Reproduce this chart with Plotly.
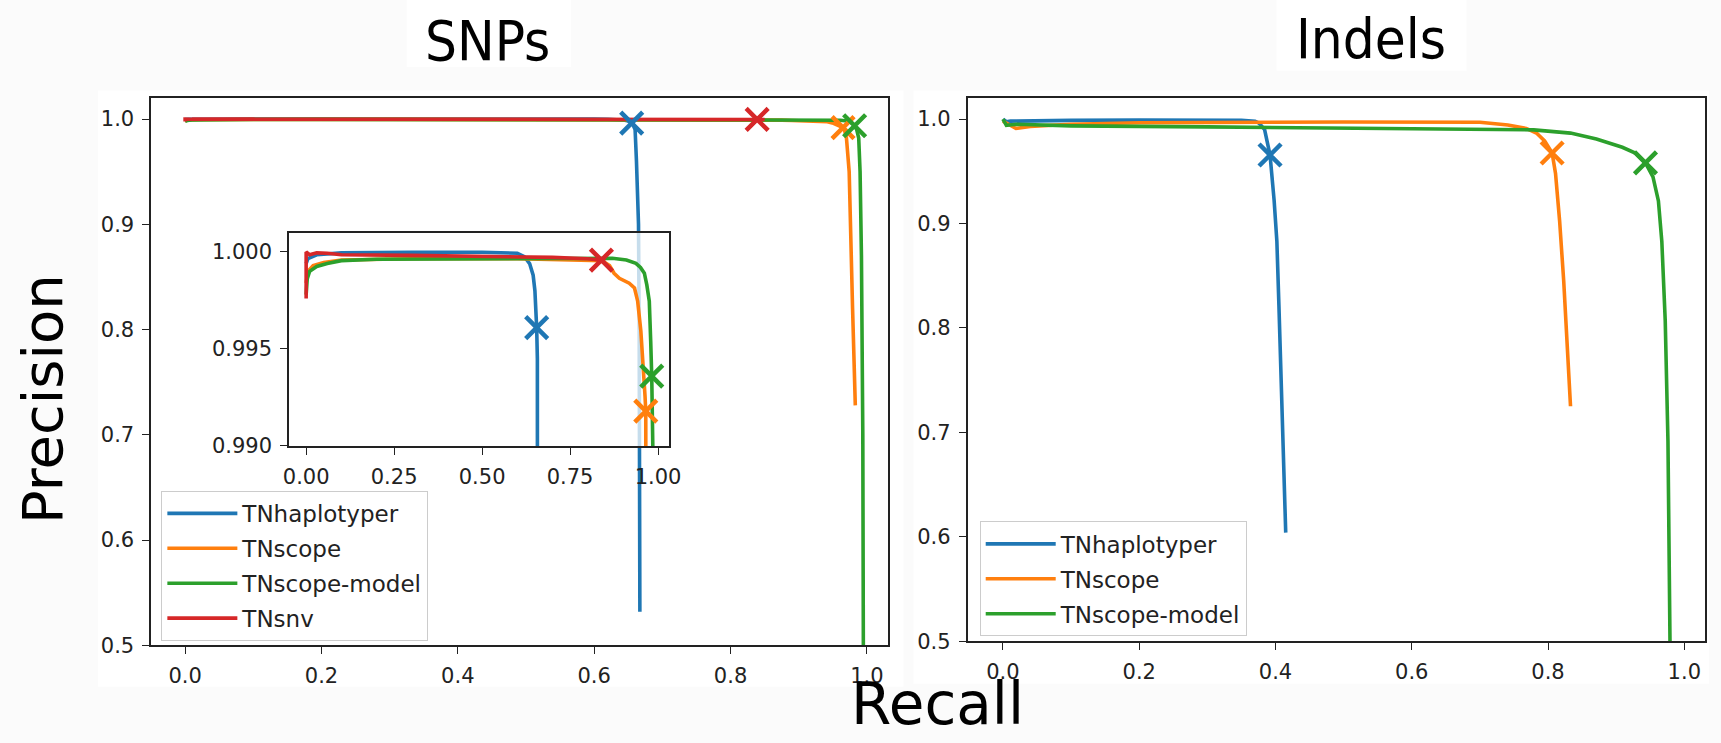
import plotly.graph_objects as go

W, H = 1721, 743

# ---------------- data: SNPs ----------------
snp_hap_recall = [0.0, 0.005, 0.03, 0.1, 0.3, 0.5, 0.6, 0.62, 0.635, 0.645, 0.65, 0.653, 0.655, 0.657, 0.659, 0.660, 0.662, 0.665, 0.666, 0.667, 0.667]
snp_hap_prec = [0.9994, 0.99965, 0.99985, 0.99995, 0.99998, 0.99998, 0.99993, 0.99975, 0.9994, 0.9988, 0.9980, 0.9970, 0.9961, 0.9945, 0.9925, 0.990, 0.96, 0.90, 0.80, 0.65, 0.532]

snp_scope_recall = [0.0, 0.005, 0.02, 0.05, 0.1, 0.3, 0.6, 0.8, 0.84, 0.862, 0.875, 0.89, 0.918, 0.933, 0.942, 0.951, 0.958, 0.963, 0.965, 0.967, 0.970, 0.974, 0.976, 0.979, 0.983]
snp_scope_prec = [0.9984, 0.9990, 0.9993, 0.99945, 0.99958, 0.99965, 0.99965, 0.9996, 0.99955, 0.9993, 0.9989, 0.99864, 0.99839, 0.99814, 0.99746, 0.99593, 0.99424, 0.99254, 0.99178, 0.990, 0.982, 0.95, 0.89, 0.82, 0.728]

snp_model_recall = [0.0, 0.003, 0.01, 0.03, 0.06, 0.1, 0.2, 0.5, 0.8, 0.87, 0.91, 0.937, 0.95, 0.961, 0.968, 0.975, 0.979, 0.982, 0.985, 0.988, 0.990, 0.992, 0.994, 0.995]
snp_model_prec = [0.9978, 0.9986, 0.9990, 0.99925, 0.9994, 0.99955, 0.99962, 0.99966, 0.99967, 0.99967, 0.99958, 0.99941, 0.9992, 0.9989, 0.9983, 0.99746, 0.99542, 0.99356, 0.990, 0.982, 0.95, 0.87, 0.70, 0.45]

snp_snv_recall = [0.0, 0.0, 0.01, 0.03, 0.06, 0.1, 0.3, 0.5, 0.7, 0.8, 0.839, 0.85]
snp_snv_prec = [0.9976, 1.0000, 0.99985, 0.99995, 0.99993, 0.99985, 0.99982, 0.99978, 0.99972, 0.99965, 0.99958, 0.99955]

snp_marker_recall = [0.655, 0.965, 0.982, 0.839]
snp_marker_prec = [0.9961, 0.9918, 0.9936, 0.99958]

# ---------------- data: Indels ----------------
ind_hap_recall = [0.0, 0.005, 0.011, 0.05, 0.1, 0.2, 0.3, 0.35, 0.37, 0.376, 0.384, 0.392, 0.398, 0.402, 0.405, 0.408, 0.411, 0.415]
ind_hap_prec = [1.0, 0.9975, 0.998, 0.9985, 0.9988, 0.999, 0.999, 0.9988, 0.998, 0.996, 0.990, 0.9656, 0.922, 0.883, 0.822, 0.750, 0.673, 0.604]

ind_scope_recall = [0.0, 0.01, 0.019, 0.04, 0.1, 0.2, 0.3, 0.5, 0.7, 0.741, 0.768, 0.783, 0.795, 0.806, 0.811, 0.817, 0.823, 0.829, 0.833]
ind_scope_prec = [0.998, 0.994, 0.991, 0.993, 0.995, 0.9965, 0.997, 0.9972, 0.997, 0.9943, 0.991, 0.9866, 0.979, 0.9675, 0.948, 0.9025, 0.845, 0.769, 0.725]

ind_model_recall = [0.0, 0.005, 0.02, 0.1, 0.3, 0.5, 0.7, 0.779, 0.833, 0.871, 0.909, 0.928, 0.943, 0.954, 0.962, 0.967, 0.972, 0.976, 0.979, 0.980]
ind_model_prec = [1.0, 0.994, 0.995, 0.9935, 0.9925, 0.9915, 0.9905, 0.9897, 0.9866, 0.981, 0.973, 0.9675, 0.958, 0.9446, 0.9216, 0.883, 0.807, 0.692, 0.5, 0.45]

ind_marker_recall = [0.392, 0.806, 0.943]
ind_marker_prec = [0.9656, 0.9675, 0.958]

names = ["TNhaplotyper", "TNscope", "TNscope-model", "TNsnv"]
colors = ["#1f77b4", "#ff7f0e", "#2ca02c", "#d62728"]

snp_series = [(snp_hap_recall, snp_hap_prec), (snp_scope_recall, snp_scope_prec),
              (snp_model_recall, snp_model_prec), (snp_snv_recall, snp_snv_prec)]
ind_series = [(ind_hap_recall, ind_hap_prec), (ind_scope_recall, ind_scope_prec),
              (ind_model_recall, ind_model_prec)]

LW = 3.6
MS = 22
MW = 4.5
fig = go.Figure()

# main SNP panel
for i, (x, y) in enumerate(snp_series):
    fig.add_trace(go.Scatter(x=x, y=y, mode="lines", name=names[i],
                             line=dict(color=colors[i], width=LW),
                             legend="legend", legendgroup=f"s{i}",
                             xaxis="x", yaxis="y"))
for i in range(4):
    fig.add_trace(go.Scatter(x=[snp_marker_recall[i]], y=[snp_marker_prec[i]], mode="markers",
                             marker=dict(symbol="x-thin", size=MS, line=dict(color=colors[i], width=MW)),
                             showlegend=False, xaxis="x", yaxis="y"))

# Indels panel
for i, (x, y) in enumerate(ind_series):
    fig.add_trace(go.Scatter(x=x, y=y, mode="lines", name=names[i],
                             line=dict(color=colors[i], width=LW),
                             legend="legend2", legendgroup=f"i{i}",
                             xaxis="x2", yaxis="y2"))
for i in range(3):
    fig.add_trace(go.Scatter(x=[ind_marker_recall[i]], y=[ind_marker_prec[i]], mode="markers",
                             marker=dict(symbol="x-thin", size=MS, line=dict(color=colors[i], width=MW)),
                             showlegend=False, xaxis="x2", yaxis="y2"))

# inset (zoom of SNP panel)
for i, (x, y) in enumerate(snp_series):
    fig.add_trace(go.Scatter(x=x, y=y, mode="lines", showlegend=False,
                             line=dict(color=colors[i], width=LW),
                             xaxis="x3", yaxis="y3"))
for i in range(4):
    fig.add_trace(go.Scatter(x=[snp_marker_recall[i]], y=[snp_marker_prec[i]], mode="markers",
                             marker=dict(symbol="x-thin", size=MS, line=dict(color=colors[i], width=MW)),
                             showlegend=False, xaxis="x3", yaxis="y3"))

tickfont = dict(family="DejaVu Sans", size=21, color="#222222")
axis_common = dict(showline=True, mirror=True, linecolor="#222222", linewidth=1.5,
                   ticks="outside", ticklen=7, tickwidth=1.3, tickcolor="#222222",
                   showgrid=False, zeroline=False, tickfont=tickfont, ticklabelstandoff=4)

def px(v):
    return v / W

def py(v):
    return 1 - v / H

legend_font = dict(family="DejaVu Sans", size=23, color="#222222")

fig.update_layout(
    width=W, height=H,
    margin=dict(l=0, r=0, t=0, b=0),
    paper_bgcolor="#fbfbfb",
    plot_bgcolor="rgba(255,255,255,0.75)",
    xaxis=dict(domain=[px(146.7), px(891.7)], range=[-0.0498, 1.0315],
               tickvals=[0, 0.2, 0.4, 0.6, 0.8, 1.0], tickformat=".1f", anchor="y", **axis_common),
    yaxis=dict(domain=[py(656), py(100)], range=[0.5, 1.0196],
               tickvals=[0.5, 0.6, 0.7, 0.8, 0.9, 1.0], tickformat=".1f", anchor="x", **axis_common),
    xaxis2=dict(domain=[px(971.7), px(1716.7)], range=[-0.052, 1.030],
                tickvals=[0, 0.2, 0.4, 0.6, 0.8, 1.0], tickformat=".1f", anchor="y2", **axis_common),
    yaxis2=dict(domain=[py(651.7), py(99.5)], range=[0.5, 1.0203],
                tickvals=[0.5, 0.6, 0.7, 0.8, 0.9, 1.0], tickformat=".1f", anchor="x2", **axis_common),
    xaxis3=dict(domain=[px(286), px(670)], range=[-0.0487, 1.031],
                tickvals=[0, 0.25, 0.5, 0.75, 1.0], tickformat=".2f", anchor="y3", **axis_common),
    yaxis3=dict(domain=[py(453.3), py(236.7)], range=[0.990, 1.00098],
                tickvals=[0.990, 0.995, 1.000], tickformat=".3f", anchor="x3", **axis_common),
    legend=dict(x=px(157), y=py(499), xanchor="left", yanchor="top", itemwidth=70,
                bgcolor="rgba(255,255,255,0.85)", bordercolor="#cccccc", borderwidth=1,
                font=legend_font, tracegroupgap=2),
    legend2=dict(x=px(984), y=py(530), xanchor="left", yanchor="top", itemwidth=70,
                 bgcolor="rgba(255,255,255,0.85)", bordercolor="#cccccc", borderwidth=1,
                 font=legend_font, tracegroupgap=2),
    shapes=[
        dict(type="rect", xref="paper", yref="paper", x0=px(93), x1=px(907), y0=py(698), y1=py(92),
             fillcolor="white", line=dict(width=0), layer="below"),
        dict(type="rect", xref="paper", yref="paper", x0=px(917), x1=1, y0=py(695), y1=py(92),
             fillcolor="white", line=dict(width=0), layer="below"),
        dict(type="rect", xref="paper", yref="paper", x0=px(405), x1=px(571), y0=py(68), y1=1,
             fillcolor="white", line=dict(width=0), layer="below"),
        dict(type="rect", xref="paper", yref="paper", x0=px(1284), x1=px(1476), y0=py(72), y1=1,
             fillcolor="white", line=dict(width=0), layer="below"),
    ],
    annotations=[
        dict(text="SNPs", x=px(487), y=py(41), xref="paper", yref="paper", showarrow=False,
             xanchor="center", yanchor="middle",
             font=dict(family="DejaVu Sans Condensed, Liberation Sans Narrow, DejaVu Sans", size=56, color="black")),
        dict(text="Indels", x=px(1379), y=py(39), xref="paper", yref="paper", showarrow=False,
             xanchor="center", yanchor="middle",
             font=dict(family="DejaVu Sans Condensed, Liberation Sans Narrow, DejaVu Sans", size=56, color="black")),
        dict(text="Precision", x=px(37), y=py(406), xref="paper", yref="paper", showarrow=False,
             textangle=-90, xanchor="center", yanchor="middle",
             font=dict(family="DejaVu Sans", size=56, color="black")),
        dict(text="Recall", x=px(941), y=py(716), xref="paper", yref="paper", showarrow=False,
             xanchor="center", yanchor="middle",
             font=dict(family="DejaVu Sans", size=58, color="black")),
    ],
)

fig.write_html("out.html")
